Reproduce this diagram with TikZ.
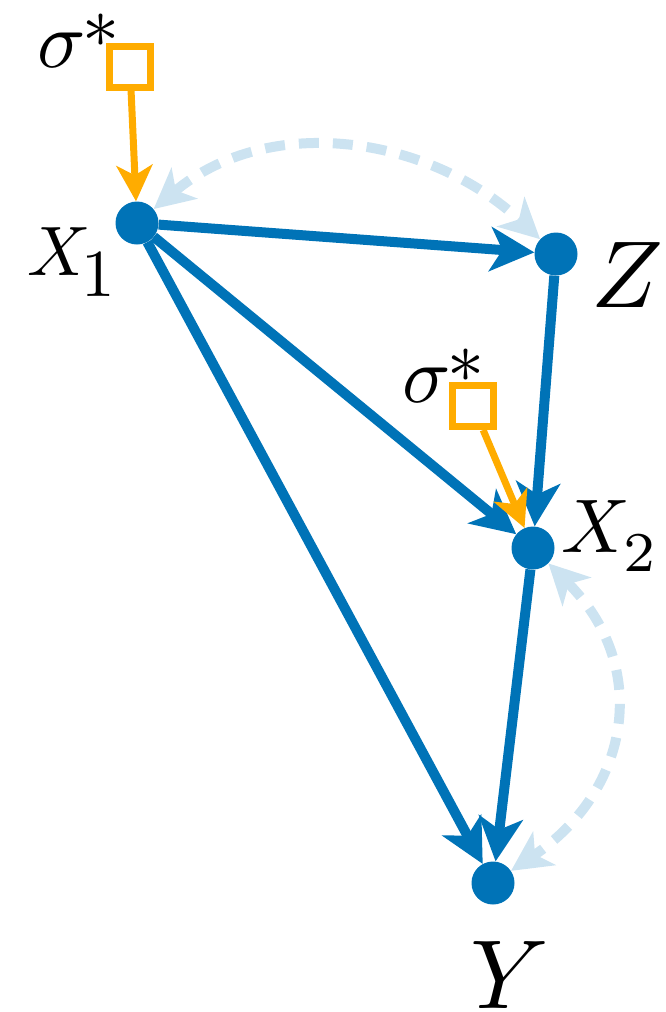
\documentclass[tikz,border=0pt]{standalone}
\usetikzlibrary{arrows.meta}
\definecolor{cblue}{RGB}{0,115,183}
\definecolor{corange}{RGB}{255,172,0}
\definecolor{clight}{RGB}{204,227,241}
\tikzset{
  vtx/.style={circle,fill=cblue,minimum size=43pt,inner sep=0pt},
  sqbox/.style={draw=corange,line width=7pt,minimum size=41pt,inner sep=0pt,fill=white},
  bedge/.style={draw=cblue,line width=10pt,-{Stealth[length=44pt,width=44pt,inset=12pt]}},
  oedge/.style={draw=corange,line width=7pt,-{Stealth[length=36pt,width=36pt,inset=10pt]}},
  dedge/.style={draw=clight,line width=10pt,dash pattern=on 20pt off 14pt,
    {Stealth[length=40pt,width=40pt,inset=11pt]}-{Stealth[length=40pt,width=40pt,inset=11pt]}},
  lbl/.style={inner sep=0pt,anchor=base west},
}
\newcommand{\subnum}[3]{\kern#3\raisebox{#2}{\fontsize{#1}{10}\selectfont 1}}
\newcommand{\subtwo}[3]{\kern#3\raisebox{#2}{\fontsize{#1}{10}\selectfont 2}}
\newcommand{\sigstar}{$\sigma$\kern-0.4pt\raisebox{2.45pt}{\fontsize{9}{10}\selectfont$\ast$}}
\begin{document}
\begin{tikzpicture}[x=1pt,y=-1pt]
\useasboundingbox (0,0) rectangle (666,1012);
\node[vtx] (x1) at (137,223) {};
\node[vtx] (z) at (556,254) {};
\node[vtx] (x2) at (533,548) {};
\node[vtx] (y) at (493,883) {};
\node[sqbox] (s1) at (130,67) {};
\node[sqbox] (s2) at (473,406) {};
% dashed bidirected arcs
\draw[dedge] (x1) to[out=40,in=137,looseness=1.0] (z);
\draw[dedge] (x2) to[out=-45,in=34,looseness=1.2] (y);
% directed edges
\draw[bedge] (x1) -- (z);
\draw[bedge] (x1) -- (x2);
\draw[bedge] (x1) -- (y);
\draw[bedge] (z) -- (x2);
\draw[bedge] (x2) -- (y);
\draw[oedge] (s1) -- (x1);
\draw[oedge] (s2) -- (x2);
% labels
\node[lbl,scale=7.0] (lx1) at (26,275) {$X$\subnum{9.6}{-3.1pt}{-1.3pt}};
\node[lbl,scale=7.6] (lx2) at (560,552) {$X$\subtwo{7.4}{-2.6pt}{-0.9pt}};
\node[lbl,scale=9.5] (lz) at (590,307) {$Z$};
\node[lbl,scale=9.8] (ly) at (469,1008) {$Y$};
\node[lbl,scale=8.0] (ls1) at (36,67) {\sigstar};
\node[lbl,scale=8.0] (ls2) at (401,402) {\sigstar};
\end{tikzpicture}
\end{document}
